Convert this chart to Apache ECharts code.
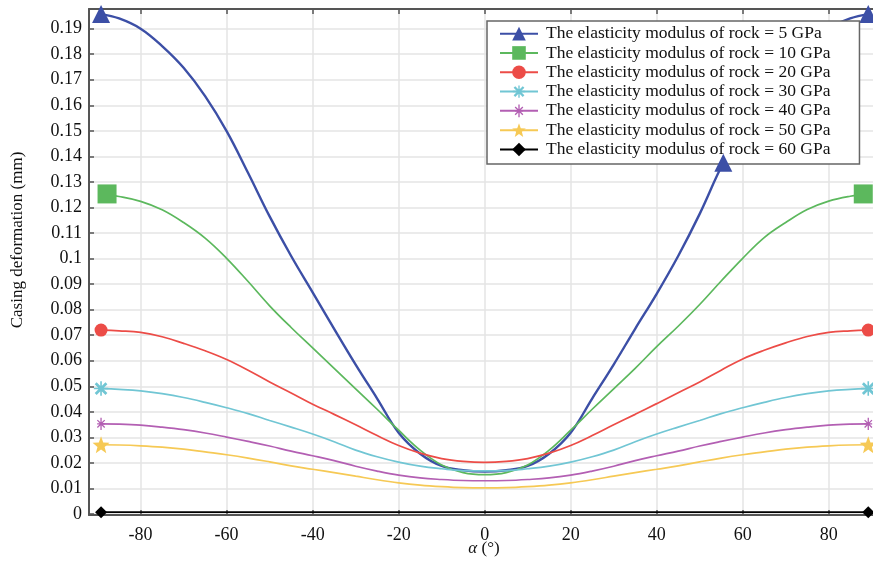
<!DOCTYPE html>
<html><head><meta charset="utf-8">
<script src="https://cdn.jsdelivr.net/npm/echarts@6/dist/echarts.min.js"></script>
<style>html,body{margin:0;padding:0;background:#fff}#c{width:873px;height:561px}</style>
</head><body><div id="c"></div>
<script>
// ---------- data ----------
const angles = [-89.2,-85,-80,-75,-70,-65,-60,-55,-50,-45,-40,-35,-30,-25,-20,-15,-10,-5,0,5,10,15,20,25,30,35,40,45,50,55,60,65,70,75,80,85,89.2];
const blueAngles = [-89.2,-85,-80,-75,-70,-65,-60,-55,-50,-45,-40,-35,-30,-25,-20,-15,-10,-5,0,5,10,15,20,25,30,35,40,45,50,55.5,60,65,70,75,80,85,89.2];
const blackAngles = [-89.2,0,89.2];
const e5  = [0.1957,0.194,0.190,0.1832,0.1747,0.1636,0.1499,0.1335,0.1165,0.101,0.0868,0.0725,0.0585,0.0452,0.0318,0.0236,0.0188,0.0171,0.0166,
             0.0171,0.0188,0.0236,0.0318,0.0452,0.0585,0.0725,0.0862,0.101,0.1175,0.1375,0.150,0.1636,0.1747,0.1832,0.190,0.194,0.1957];
const e10 = [0.1253,0.1243,0.1224,0.1191,0.1141,0.108,0.1001,0.091,0.0815,0.073,0.065,0.057,0.049,0.041,0.0328,0.025,0.0192,0.0162,0.0154,
             0.0162,0.0192,0.025,0.0328,0.041,0.049,0.057,0.0655,0.0735,0.082,0.0912,0.1001,0.1082,0.1141,0.1192,0.1225,0.1244,0.1253];
const e20 = [0.0720,0.0717,0.0711,0.0694,0.0668,0.0639,0.0605,0.0563,0.0517,0.0474,0.0430,0.0390,0.0349,0.0307,0.0268,0.0238,0.0217,0.0206,0.0202,
             0.0206,0.0217,0.0238,0.0268,0.0307,0.0349,0.0390,0.0432,0.0475,0.0517,0.0563,0.0607,0.0641,0.0670,0.0695,0.0711,0.0717,0.0720];
const e30 = [0.0491,0.0488,0.0482,0.0471,0.0456,0.0437,0.0416,0.0393,0.0366,0.0340,0.0313,0.0283,0.0250,0.0224,0.0203,0.0187,0.0177,0.0170,0.0169,
             0.0170,0.0177,0.0187,0.0203,0.0224,0.0250,0.0283,0.0313,0.0340,0.0366,0.0393,0.0416,0.0437,0.0456,0.0471,0.0482,0.0488,0.0491];
const e40 = [0.0353,0.0352,0.0348,0.0340,0.0330,0.0317,0.0301,0.0284,0.0266,0.0246,0.0228,0.0209,0.0187,0.0168,0.0152,0.0141,0.0135,0.0131,0.0130,
             0.0131,0.0135,0.0141,0.0152,0.0168,0.0187,0.0209,0.0228,0.0246,0.0266,0.0284,0.0301,0.0317,0.0330,0.0340,0.0348,0.0352,0.0353];
const e50 = [0.0271,0.0270,0.0267,0.0262,0.0254,0.0243,0.0232,0.0219,0.0204,0.0188,0.0175,0.0162,0.0148,0.0134,0.0122,0.0113,0.0107,0.0103,0.0102,
             0.0103,0.0107,0.0113,0.0122,0.0134,0.0148,0.0162,0.0175,0.0188,0.0204,0.0219,0.0232,0.0243,0.0254,0.0262,0.0267,0.0270,0.0271];
const e60 = [0.0007,0.0007,0.0007];
const seriesNames = [
  'The elasticity modulus of rock = 5 GPa',
  'The elasticity modulus of rock = 10 GPa',
  'The elasticity modulus of rock = 20 GPa',
  'The elasticity modulus of rock = 30 GPa',
  'The elasticity modulus of rock = 40 GPa',
  'The elasticity modulus of rock = 50 GPa',
  'The elasticity modulus of rock = 60 GPa'
];
const xTicks = [-80,-60,-40,-20,0,20,40,60,80];
const yTicks = [0,0.01,0.02,0.03,0.04,0.05,0.06,0.07,0.08,0.09,0.1,0.11,0.12,0.13,0.14,0.15,0.16,0.17,0.18,0.19];
const blueMarks = [-89.2,55.5,89.2];
const endMarks = [-89.2,89.2];

// ---------- symbol shapes ----------
function bar(cx, cy, angDeg, len, w) {
  const a = angDeg*Math.PI/180, dx = Math.cos(a), dy = Math.sin(a), nx = -dy, ny = dx;
  const p = [[cx-dx*len+nx*w, cy-dy*len+ny*w],[cx+dx*len+nx*w, cy+dy*len+ny*w],
             [cx+dx*len-nx*w, cy+dy*len-ny*w],[cx-dx*len-nx*w, cy-dy*len-ny*w]];
  return 'M'+p.map(q=>q[0].toFixed(2)+' '+q[1].toFixed(2)).join('L')+'Z';
}
function frame(){ return 'M0 0L0.01 0L0.01 0.01Z M20 20L19.99 20L20 19.99Z'; }
const cyanSym = 'path://' + frame() + bar(10,10,45,9.5,1.7) + bar(10,10,135,9.5,1.7) + bar(10,10,0,9,1.0) + bar(10,10,90,9,1.0);
const magSym = 'path://' + frame() + bar(10,10,90,9.5,1.0) + bar(10,10,45,8,1.0) + bar(10,10,135,8,1.0) + bar(10,10,0,6,1.0);
function starPath(){
  let s='';
  for (let i=0;i<10;i++){
    const r = i%2===0 ? 10 : 4.2;
    const a = -Math.PI/2 + i*Math.PI/5;
    s += (i===0?'M':'L') + (10+r*Math.cos(a)).toFixed(2)+' '+(10+r*Math.sin(a)).toFixed(2);
  }
  return 'path://'+s+'Z';
}

const FONT = 'Liberation Serif';
function mk(name, xs, ys, marks, color, symbol, size, width, offsets, hide) {
  const data = xs.map((x,i)=>{
    const m = marks.indexOf(x);
    if (m < 0 || (hide && hide.indexOf(x) >= 0)) return {value:[x, ys[i]], symbol:'none'};
    const it = {value:[x, ys[i]]};
    if (offsets) it.symbolOffset = offsets[m];
    return it;
  });
  return {
    name, type:'line', data, smooth:0.4, symbol, symbolSize:size, showSymbol:true,
    lineStyle:{color, width}, itemStyle:{color, borderWidth:0}, emphasis:{disabled:true},
    clip:true, animation:false, z:2
  };
}

const blueColor = '#3c4fa6';
const series = [
  mk(seriesNames[0], blueAngles, e5, blueMarks, blueColor, 'triangle', 18, 2.4, null, [55.5]),
  mk(seriesNames[1], angles, e10, endMarks, '#5cb85d', 'rect', 19, 1.7, [[6,0],[-5,0]]),
  mk(seriesNames[2], angles, e20, endMarks, '#ec4c47', 'circle', 13, 1.7),
  mk(seriesNames[3], angles, e30, endMarks, '#71c6d4', cyanSym, 16, 1.7),
  mk(seriesNames[4], angles, e40, endMarks, '#b35fb3', magSym, 13, 1.7),
  mk(seriesNames[5], angles, e50, endMarks, '#f6c955', starPath(), 17, 1.7),
  mk(seriesNames[6], blackAngles, e60, endMarks, '#000000', 'diamond', 12, 1.7)
];
// blue marker at 55.5 drawn above the legend box (as in the reference)
const iMark = blueAngles.indexOf(55.5);
series.push({
  type:'scatter', data:[[blueAngles[iMark], e5[iMark]]], symbol:'triangle', symbolSize:18,
  itemStyle:{color:blueColor, opacity:1}, z:6, silent:true, animation:false
});

const axisLine = {show:true, onZero:false, lineStyle:{color:'#555', width:2}};
const chart = echarts.init(document.getElementById('c'), null, {renderer:'canvas'});
chart.setOption({
  animation:false,
  backgroundColor:'#fff',
  grid:{left:89, right:0, top:9, bottom:46, containLabel:false},
  xAxis:[{
    type:'value', min:-92, max:90.3,
    axisLine,
    axisTick:{show:true, inside:true, length:5, customValues:xTicks, lineStyle:{color:'#555', width:1.5}},
    axisLabel:{customValues:xTicks, fontFamily:FONT, fontSize:18, color:'#111', margin:11},
    splitLine:{show:true, lineStyle:{color:'#e4e4e4', width:1.5}}
  },{
    type:'value', min:-92, max:90.3, position:'top',
    axisLine,
    axisTick:{show:true, inside:true, length:5, customValues:xTicks, lineStyle:{color:'#555', width:1.5}},
    axisLabel:{show:false},
    splitLine:{show:false}
  }],
  yAxis:{
    type:'value', min:-0.0004, max:0.1977,
    axisLine,
    axisTick:{show:true, inside:true, length:5, customValues:yTicks, lineStyle:{color:'#555', width:1.5}},
    axisLabel:{customValues:yTicks, fontFamily:FONT, fontSize:18, color:'#111', margin:7,
      formatter:v=>String(+v.toFixed(2))},
    splitLine:{show:true, lineStyle:{color:'#e4e4e4', width:1.5}}
  },
  legend:{
    orient:'vertical', left:487, top:21, z:4,
    padding:[3,29,5,12],
    itemWidth:38, itemHeight:17, itemGap:0,
    backgroundColor:'#fff', borderColor:'#666', borderWidth:1.5,
    textStyle:{fontFamily:FONT, fontSize:17.5, color:'#111', lineHeight:19.3, padding:[0,0,0,3]},
    data:seriesNames
  },
  graphic:[
    {type:'text', x:18, y:240, rotation:Math.PI/2, style:{text:'Casing deformation (mm)', font:'17px "Liberation Serif"', fill:'#111', align:'center', verticalAlign:'middle'}},
    {type:'text', x:484, y:549, style:{text:'{a|α} (°)', rich:{a:{fontStyle:'italic', fontFamily:FONT, fontSize:17}}, font:'17px "Liberation Serif"', fill:'#111', align:'center', verticalAlign:'middle'}}
  ],
  series
});
</script>
</body></html>
